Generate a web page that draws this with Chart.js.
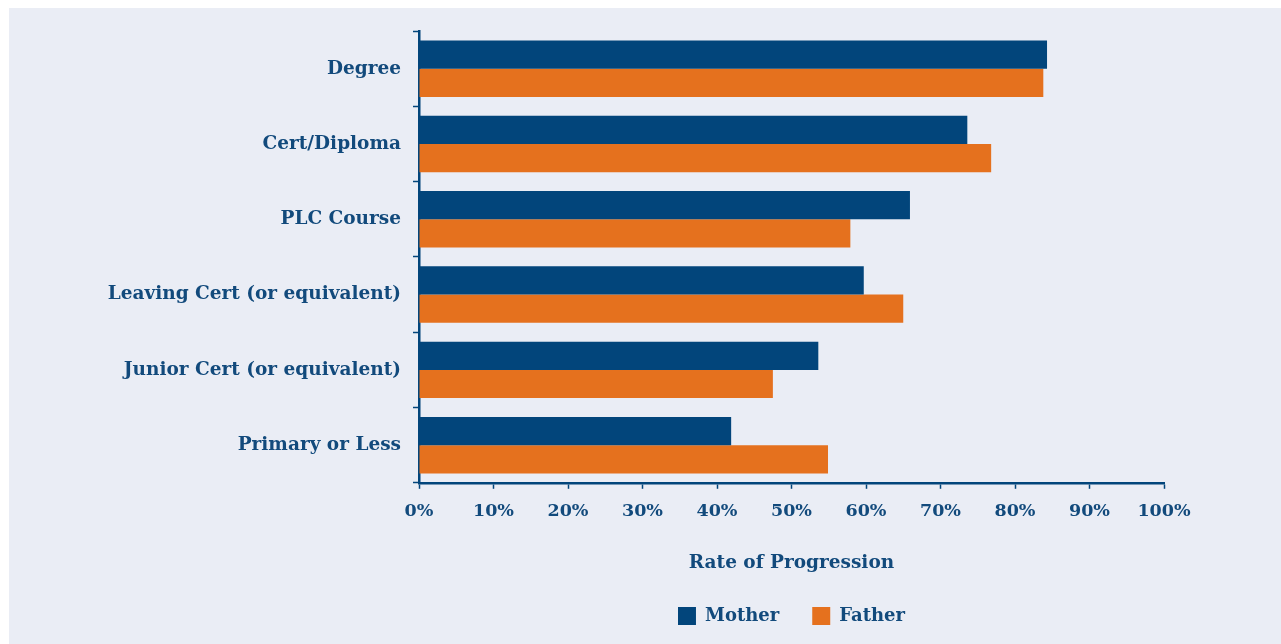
<!DOCTYPE html>
<html>
<head>
<meta charset="utf-8">
<script src="https://cdn.jsdelivr.net/npm/chart.js@4"></script>
<style>
  html, body { margin: 0; padding: 0; background: #ffffff; }
  #wrap {
    position: absolute; left: 9px; top: 8px;
    width: 1272px; height: 636px; background: #eaedf5;
  }
</style>
</head>
<body>
<div id="wrap"><canvas id="progressionChart" width="1272" height="636"></canvas></div>
<script>
const categories = [
    "Degree",
    "Cert/Diploma",
    "PLC Course",
    "Leaving Cert (or equivalent)",
    "Junior Cert (or equivalent)",
    "Primary or Less"
];

const motherValues = [84.3, 73.6, 65.9, 59.7, 53.6, 41.9];
const fatherValues = [83.8, 76.8, 57.9, 65.0, 47.5, 54.9];

const navy = "#02457b";
const orange = "#e5711e";
const textColor = "#124a7c";
const serif = "'DejaVu Serif', serif";

const ctx = document.getElementById("progressionChart");

new Chart(ctx, {
    type: "bar",
    data: {
        labels: categories,
        datasets: [
            {
                label: "Mother",
                data: motherValues,
                backgroundColor: navy,
                categoryPercentage: 0.75,
                barPercentage: 1.0
            },
            {
                label: "Father",
                data: fatherValues,
                backgroundColor: orange,
                categoryPercentage: 0.75,
                barPercentage: 1.0
            }
        ]
    },
    options: {
        indexAxis: "y",
        responsive: false,
        animation: false,
        layout: {
            padding: { top: 23, right: 117, left: 0, bottom: 9 }
        },
        plugins: {
            legend: {
                position: "bottom",
                fullSize: false,
                labels: {
                    color: textColor,
                    font: { family: serif, weight: "bold", size: 18 },
                    boxWidth: 18,
                    boxHeight: 18,
                    padding: 33
                }
            },
            tooltip: { enabled: false }
        },
        scales: {
            x: {
                min: 0,
                max: 100,
                ticks: {
                    stepSize: 10,
                    color: textColor,
                    font: { family: serif, weight: "bold", size: 17.5 },
                    padding: 12,
                    callback: v => v + "%"
                },
                grid: {
                    drawOnChartArea: false,
                    color: navy,
                    tickLength: 6,
                    tickWidth: 1.5
                },
                border: { color: navy, width: 2.5 },
                title: {
                    display: true,
                    text: "Rate of Progression",
                    color: textColor,
                    font: { family: serif, weight: "bold", size: 18.5 },
                    padding: { top: 18, bottom: 0 }
                }
            },
            y: {
                ticks: {
                    color: textColor,
                    font: { family: serif, weight: "bold", size: 18.5 },
                    padding: 12
                },
                grid: {
                    drawOnChartArea: false,
                    color: navy,
                    tickLength: 6,
                    tickWidth: 1.5
                },
                border: { color: navy, width: 2.5 },
                afterFit: scale => { scale.width = 410; }
            }
        }
    }
});
</script>
</body>
</html>
